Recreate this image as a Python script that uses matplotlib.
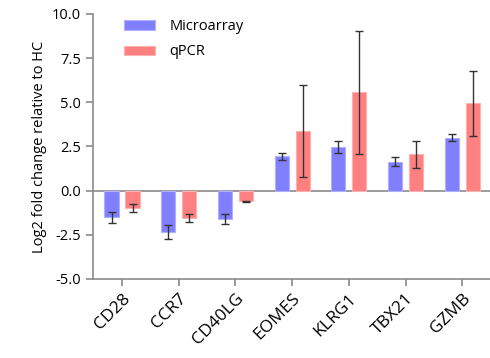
import matplotlib
matplotlib.use("Agg")
import matplotlib.pyplot as plt
import numpy as np

# Data
genes = ["CD28", "CCR7", "CD40LG", "EOMES", "KLRG1", "TBX21", "GZMB"]
micro = [-1.51, -2.36, -1.60, 1.94, 2.47, 1.64, 3.00]
micro_err = [0.32, 0.40, 0.30, 0.19, 0.33, 0.25, 0.21]
qpcr = [-0.98, -1.55, -0.60, 3.36, 5.56, 2.05, 4.94]
qpcr_err = [0.22, 0.22, 0.03, 2.60, 3.50, 0.77, 1.85]

plt.rcParams["font.family"] = ["Open Sans", "DejaVu Sans"]

fig = plt.figure(figsize=(4.9, 3.58), dpi=100)
ax = fig.add_axes([0.19, 0.2207, 0.81, 0.7403])

x = np.arange(len(genes))
w = 0.25
off = 0.185
err_kw = dict(ecolor="#333333", elinewidth=1.0, capsize=3, capthick=1.0)

ax.bar(x - off, micro, w, color="#8080ff", edgecolor="#b0b0ff", linewidth=0.8,
       yerr=micro_err, error_kw=err_kw, label="Microarray")
ax.bar(x + off, qpcr, w, color="#ff8080", edgecolor="#ffb0b0", linewidth=0.8,
       yerr=qpcr_err, error_kw=err_kw, label="qPCR")

ax.axhline(0, color="#8a8a8a", linewidth=1.2, zorder=0)

ax.set_xlim(-0.51, 6.49)
ax.set_ylim(-5, 10)
ax.set_yticks([-5, -2.5, 0, 2.5, 5, 7.5, 10])
ax.set_yticklabels(["-5.0", "-2.5", "0.0", "2.5", "5.0", "7.5", "10.0"], fontsize=10.5)
ax.set_xticks(x)
ax.set_xticklabels(genes, rotation=45, ha="right", rotation_mode="anchor", fontsize=12.5)

for s in ["top", "right"]:
    ax.spines[s].set_visible(False)
for s in ["left", "bottom"]:
    ax.spines[s].set_color("#8a8a8a")
    ax.spines[s].set_linewidth(1.2)
ax.tick_params(colors="#8a8a8a", labelcolor="black", length=5, width=1.2)

ax.set_ylabel("Log2 fold change relative to HC", fontsize=10.5)

ax.legend(loc="upper left", bbox_to_anchor=(0.045, 1.03), frameon=False, fontsize=10.5,
          handlelength=2.1, handleheight=0.6, handletextpad=1.0, labelspacing=0.7)

fig.savefig("out.png", dpi=100)
